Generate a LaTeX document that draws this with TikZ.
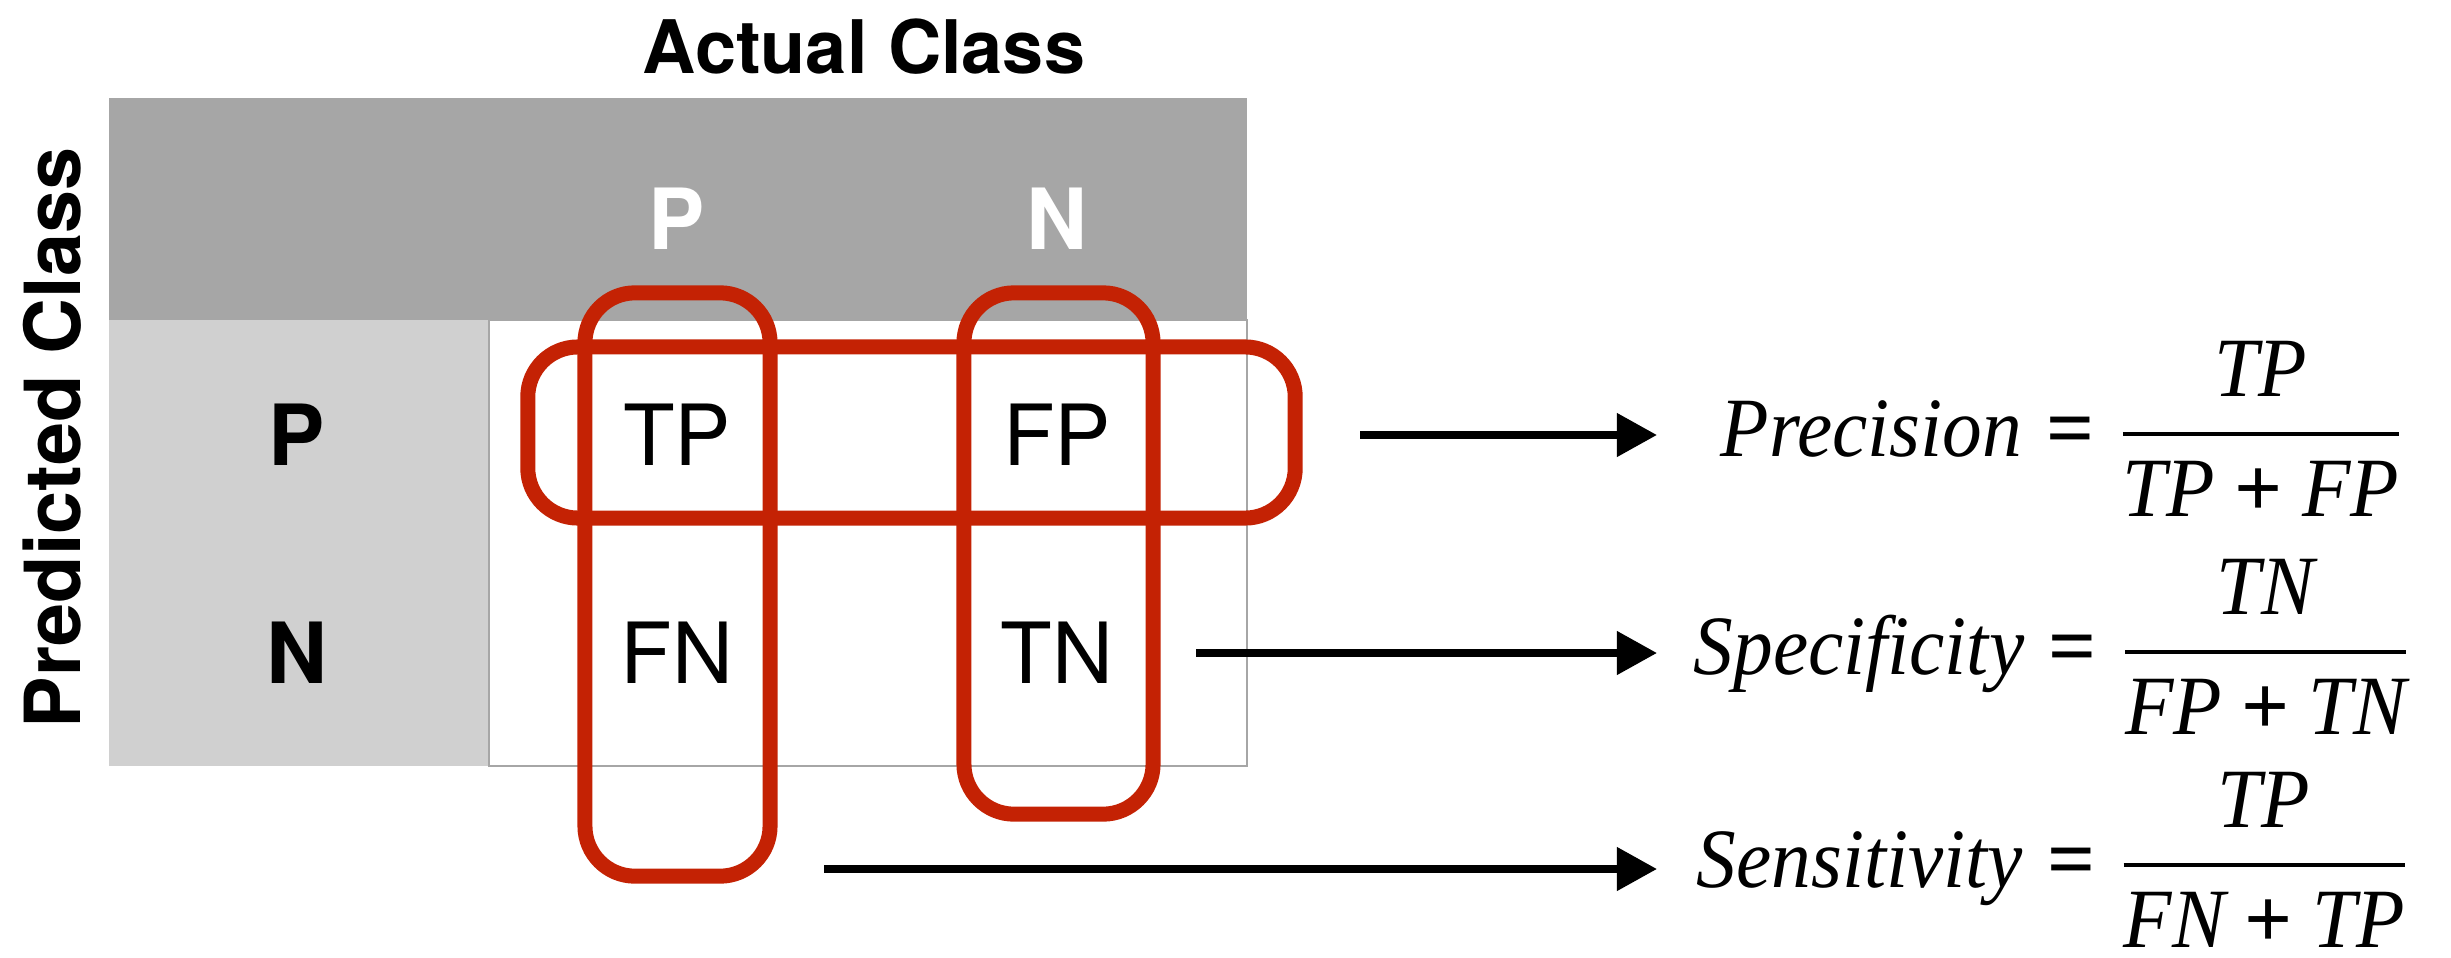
\documentclass[tikz,border=0pt]{standalone}
\usepackage{amsmath}
\usepackage{fontspec}
\setmainfont{TeX Gyre Heros}
\newfontfamily\formfont[FakeStretch=0.94]{Liberation Serif}
\newfontfamily\opfont{Liberation Serif}
\usetikzlibrary{arrows.meta}
\definecolor{selred}{RGB}{196,34,4}
\definecolor{headgray}{RGB}{166,166,166}
\definecolor{rowgray}{RGB}{208,208,208}
\newcommand{\fv}[1]{\text{\formfont\itshape #1}}
\newcommand{\feq}{\mathrel{\text{\opfont\bfseries =}}}
\newcommand{\fplus}{\mathbin{\text{\opfont\bfseries +}}}
\newcommand{\ffrac}[2]{\genfrac{}{}{1pt}{0}{#1}{#2}}
\begin{document}
\begin{tikzpicture}[x=0.01cm,y=-0.01cm,
  lab/.style={font=\fontsize{24}{28}\selectfont\bfseries},
  cell/.style={font=\fontsize{24}{28}\selectfont},
  sel/.style={draw=selred,line width=0.15cm,rounded corners=0.5cm,inner sep=0},
  arr/.style={line width=0.075cm,-{Triangle[length=0.4cm,width=0.42cm]}},
  formula/.style={anchor=base west,inner sep=0,font=\fontsize{24}{28}\selectfont}]
\useasboundingbox (0,0) rectangle (2451,957);
\fill[headgray] (109,98) rectangle (1247,320);
\fill[rowgray] (109,320) rectangle (489,766);
\draw[gray!70,fill=white,line width=0.02cm] (489,320) rectangle (1247,766);
\node[lab,font=\fontsize{21}{25}\selectfont\bfseries] (title) at (864,47) {Actual Class};
\node[lab,font=\fontsize{22}{26}\selectfont\bfseries,rotate=90] (predicted) at (52,438) {Predicted Class};
\foreach \x/\t in {677/P,1057/N} \node[lab,text=white] (col\t) at (\x,219) {\t};
\foreach \y/\t in {435/P,653/N} \node[lab] (row\t) at (297,\y) {\t};
\foreach \x/\y/\t in {677/435/TP,1057/435/FP,677/653/FN,1057/653/TN}
  \node[cell] (\t) at (\x,\y) {\t};
% selections
\node[sel,minimum width=1.85cm,minimum height=5.83cm] (selP) at (677.5,584.5) {};
\node[sel,minimum width=1.89cm,minimum height=5.21cm] (selN) at (1058.5,553.5) {};
\node[sel,minimum width=7.67cm,minimum height=1.71cm] (selRow) at (911.5,432.5) {};
% formulas
\node[formula] (prec) at (1720,456) {$\fv{Precision}\feq\ffrac{\fv{TP}}{\fv{TP}\fplus\fv{FP}}$};
\node[formula] (spec) at (1693,674) {$\fv{Specificity}\feq\ffrac{\fv{TN}}{\fv{FP}\fplus\fv{TN}}$};
\node[formula] (sens) at (1696,887) {$\fv{Sensitivity}\feq\ffrac{\fv{TP}}{\fv{FN}\fplus\fv{TP}}$};
\coordinate (fromRow) at (1360,435);
\coordinate (fromTN) at (1196,653);
\coordinate (fromP) at (824,869);
\draw[arr] (fromRow) -- ([xshift=-0.63cm]fromRow -| prec.west);
\draw[arr] (fromTN) -- ([xshift=-0.36cm]fromTN -| spec.west);
\draw[arr] (fromP) -- ([xshift=-0.39cm]fromP -| sens.west);
\end{tikzpicture}
\end{document}
